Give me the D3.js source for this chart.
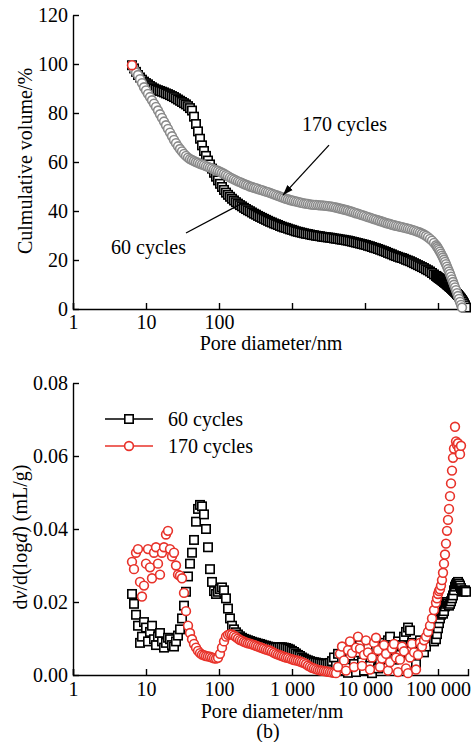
<!DOCTYPE html>
<html>
<head>
<meta charset="utf-8">
<script src="https://cdn.jsdelivr.net/npm/d3@7"></script>
<style>
body { margin: 0; background: #fff; }
svg text { font-family: "Liberation Serif", "Times New Roman", serif; font-size: 20px; fill: #000; }
</style>
</head>
<body>
<div id="chart"></div>
<script>
// pore diameters (nm), same pressure steps for both panels
const poreDiameter = [
  6.43, 6.85, 7.30, 7.77, 8.28, 8.81, 9.39, 10.0, 10.65, 11.34,
  12.08, 12.87, 13.71, 14.60, 15.55, 16.56, 17.64, 18.79, 20.01, 21.32,
  22.71, 24.19, 25.76, 27.44, 29.23, 31.13, 33.16, 35.32, 37.62, 40.07,
  42.68, 45.46, 48.42, 51.57, 54.93, 58.50, 62.31, 66.37, 70.69, 75.29,
  80.20, 85.42, 90.98, 96.9, 103.2, 109.9, 117.1, 124.7, 132.8, 141.5,
  150.7, 160.5, 171.0, 182.1, 194.0, 206.6, 220.1, 234.4, 249.7, 265.9,
  283.2, 301.7, 321.3, 342.3, 364.5, 388.3, 413.6, 440.5, 469.2, 499.7,
  532.2, 566.9, 603.8, 643.1, 685, 729.6, 777.1, 827.7, 881.6, 939,
  1000, 1065, 1134, 1208, 1287, 1371, 1460, 1555, 1656, 1764,
  1879, 2001, 2132, 2271, 2419, 2576, 2744, 2923, 3113, 3316,
  3532, 3762, 4007, 4268, 4546, 4842, 5157, 5493, 5850, 6231,
  6637, 7069, 7529, 8020, 8542, 9098, 9690, 10320, 10990, 11710,
  12470, 13280, 14150, 15070, 16050, 17100, 18210, 19400, 20660, 22010,
  23440, 24970, 26590, 28320, 30170, 32130, 34230, 36450, 38830, 41360,
  44050, 46920, 49970, 53220, 56690, 60380, 64310, 68500, 72960, 77710,
  82770, 88160, 93890,
  96900, 100000, 103200, 106500, 109900, 113400, 117100, 120800, 124700, 128700,
  132800, 137100, 141500, 146000, 150700, 155500, 160500, 165600, 171000, 176500,
  182100, 187900, 194000, 200200, 206600, 213200, 220100, 227100, 234400, 241900
];

// (a) cumulative volume, %
const cum60 = [
  99.5, 98.2, 96.8, 95.5, 94.5, 93.6, 92.8, 92.2, 91.7, 91,
  90.5, 90, 89.6, 89.3, 89, 88.7, 88.4, 88, 87.7, 87.3,
  86.9, 86.5, 86, 85.5, 85, 84.5, 84, 83.5, 82.8, 82,
  81, 78.5, 75.5, 72.5, 69.5, 66.8, 64.5, 62.5, 60.6, 59,
  57.3, 55.6, 54, 52.5, 51.1, 49.8, 48.6, 47.5, 46.6, 45.8,
  45, 44.3, 43.6, 43, 42.4, 41.9, 41.3, 40.8, 40.3, 39.9,
  39.4, 38.9, 38.5, 38, 37.6, 37.2, 36.8, 36.4, 36, 35.6,
  35.3, 34.9, 34.6, 34.3, 33.9, 33.6, 33.3, 33.1, 32.8, 32.5,
  32.3, 32, 31.7, 31.5, 31.3, 31.1, 30.9, 30.7, 30.6, 30.4,
  30.2, 30.1, 29.9, 29.8, 29.7, 29.5, 29.4, 29.3, 29.2, 29.1,
  29, 28.8, 28.7, 28.6, 28.4, 28.3, 28.2, 28, 27.9, 27.7,
  27.5, 27.3, 27.1, 26.9, 26.7, 26.5, 26.3, 26.1, 25.8, 25.6,
  25.3, 25, 24.8, 24.5, 24.2, 23.9, 23.6, 23.3, 22.9, 22.6,
  22.3, 21.9, 21.6, 21.3, 21, 20.8, 20.5, 20.1, 19.8, 19.5,
  19.1, 18.7, 18.3, 17.9, 17.5, 17.1, 16.7, 16.2, 15.8, 15.3,
  14.7, 14.1, 13.5,
  13.2, 12.9, 12.6, 12.3, 12.0, 11.7, 11.4, 11.0, 10.7, 10.4,
  10.0, 9.7, 9.3, 9.0, 8.6, 8.2, 7.8, 7.4, 7.0, 6.6,
  6.1, 5.7, 5.2, 4.7, 4.2, 3.6, 3.0, 2.3, 1.5, 0.6
];
const cum170 = [
  99.5, 97.8, 96.5, 95.5, 93.8, 92.2, 90.5, 89.2, 87.8, 86.5,
  85.2, 83.8, 82.5, 81, 79.5, 78, 76.5, 75, 73.5, 72,
  70.5, 69, 67.7, 66.4, 65.3, 64.3, 63.3, 62.5, 61.8, 61.2,
  60.8, 60.4, 60, 59.7, 59.3, 59, 58.7, 58.3, 58, 57.7,
  57.4, 57, 56.7, 56.4, 56, 55.6, 55.2, 54.7, 54.2, 53.7,
  53.3, 52.9, 52.5, 52.1, 51.8, 51.4, 51, 50.7, 50.4, 50,
  49.8, 49.5, 49.3, 49, 48.7, 48.5, 48.2, 47.9, 47.7, 47.4,
  47.1, 46.8, 46.5, 46.2, 45.9, 45.6, 45.3, 45, 44.8, 44.5,
  44.3, 44.1, 43.9, 43.7, 43.5, 43.3, 43.1, 43, 42.9, 42.7,
  42.6, 42.5, 42.5, 42.4, 42.3, 42.3, 42.2, 42.1, 42, 41.9,
  41.8, 41.6, 41.4, 41.2, 41, 40.8, 40.6, 40.4, 40.2, 39.9,
  39.7, 39.4, 39.1, 38.9, 38.6, 38.3, 38.1, 37.8, 37.5, 37.3,
  37, 36.7, 36.5, 36.2, 35.9, 35.7, 35.4, 35.1, 34.9, 34.7,
  34.4, 34.2, 34, 33.8, 33.6, 33.4, 33.2, 33, 32.8, 32.6,
  32.3, 32.1, 31.8, 31.5, 31.2, 30.8, 30.4, 29.9, 29.3, 28.6,
  27.9, 27, 26,
  25.4, 24.8, 24.1, 23.4, 22.6, 21.8, 21, 20.1, 19.2, 18.3,
  17.3, 16.3, 15.3, 14.3, 13.2, 12.1, 11, 9.9, 8.8, 7.7,
  6.5, 5.3, 4.1, 2.9, 1.7, 0.6, null, null, null, null
];

// (b) dv/d(log d), mL/g
const dv60 = [
  0.0222, 0.0195, 0.0165, 0.0135, 0.0088, 0.0105, 0.0145, 0.013, 0.0092, 0.0118,
  0.0135, 0.0098, 0.0082, 0.0105, 0.0115, 0.0092, 0.0075, 0.0088, 0.0102, 0.0098,
  0.0082, 0.0078, 0.0092, 0.0108, 0.0125, 0.0155, 0.019, 0.0228, 0.027, 0.0305,
  0.0335, 0.037, 0.042, 0.0455, 0.0466, 0.0462, 0.044, 0.04, 0.035, 0.029,
  0.0255, 0.023, 0.0222, 0.0228, 0.0235, 0.024, 0.0232, 0.021, 0.0182, 0.0155,
  0.0135, 0.0125, 0.0117, 0.0111, 0.0106, 0.0102, 0.0099, 0.0097, 0.0095, 0.0093,
  0.0091, 0.0089, 0.0088, 0.0086, 0.0085, 0.0083, 0.0081, 0.008, 0.0078, 0.0077,
  0.0076, 0.0075, 0.0075, 0.0075, 0.0076, 0.0076, 0.0075, 0.0074, 0.0072, 0.007,
  0.0066, 0.0063, 0.0059, 0.0055, 0.0052, 0.0048, 0.0045, 0.0042, 0.004, 0.0038,
  0.0036, 0.0035, 0.0034, 0.0033, 0.0032, 0.0031, 0.0031, 0.003, 0.0031, 0.0033,
  0.0038, 0.0048, 0.0025, 0.0058, 0.0012, 0.0045, 0.0065, 0.002, 0.0006, 0.0052,
  0.0072, 0.003, 0.0008, 0.0062, 0.0082, 0.0035, 0.0012, 0.0058, 0.0078, 0.0025,
  0.0005, 0.0048, 0.0068, 0.0018, 0.0042, 0.0075, 0.0088, 0.0062, 0.0095, 0.0105,
  0.0078, 0.0042, 0.0068, 0.0092, 0.0055, 0.0082, 0.0105, 0.0118, 0.013, 0.0122,
  0.0088, 0.005, 0.003, 0.0065, 0.0095, 0.0082, 0.0062, 0.0078, 0.0105, 0.012,
  0.0108, 0.0092, 0.0098,
  0.0112, 0.0128, 0.0142, 0.0155, 0.0165, 0.017, 0.0168, 0.0175, 0.0188, 0.0195,
  0.02, 0.0196, 0.019, 0.0195, 0.0202, 0.021, 0.0218, 0.0232, 0.0242, 0.0248,
  0.0252, 0.0255, 0.025, 0.0245, 0.0238, 0.0232, 0.0228, 0.023, 0.0232, 0.0228
];
const dv170 = [
  0.031, 0.029, 0.0335, 0.0345, 0.0255, 0.0215, 0.0245, 0.0305, 0.0345, 0.0295,
  0.0265, 0.0335, 0.035, 0.0305, 0.0275, 0.0335, 0.035, 0.0385, 0.0395, 0.0345,
  0.0325, 0.0335, 0.03, 0.0275, 0.0272, 0.0265, 0.0225, 0.0175, 0.0135, 0.0115,
  0.0098, 0.0085, 0.0075, 0.0066, 0.006, 0.0056, 0.0054, 0.0052, 0.0051, 0.005,
  0.0048, 0.0046, 0.0045, 0.0047, 0.0058, 0.0075, 0.0092, 0.0105, 0.011, 0.0112,
  0.0111, 0.0108, 0.0104, 0.01, 0.0096, 0.0094, 0.0091, 0.0089, 0.0087, 0.0086,
  0.0084, 0.0082, 0.008, 0.0078, 0.0076, 0.0074, 0.0072, 0.007, 0.0068, 0.0067,
  0.0064, 0.0061, 0.0058, 0.0056, 0.0054, 0.0052, 0.005, 0.0048, 0.0047, 0.0045,
  0.0043, 0.0041, 0.004, 0.0039, 0.0037, 0.0035, 0.0033, 0.003, 0.0026, 0.0023,
  0.002, 0.0018, 0.0016, 0.0014, 0.0013, 0.0012, 0.0011, 0.001, 0.0009, 0.0008,
  0.0007, 0.0006, 0.0005, 0.0022, 0.0058, 0.0078, 0.004, 0.0012, 0.0068, 0.0092,
  0.006, 0.0022, 0.0075, 0.0105, 0.0072, 0.0025, 0.0055, 0.0095, 0.0062, 0.0015,
  0.0048, 0.0088, 0.0102, 0.0068, 0.0022, 0.0045, 0.0082, 0.0058, 0.0012, 0.0035,
  0.0072, 0.0085, 0.0048, 0.0008, 0.0042, 0.0078, 0.0065, 0.0018, 0.0005, 0.0048,
  0.0085, 0.0062, 0.0015, 0.0055, 0.0088, 0.0078, 0.0095, 0.0105, 0.0118, 0.0135,
  0.0155, 0.0178, 0.0198,
  0.021, 0.0222, 0.023, 0.0235, 0.0245, 0.026, 0.028, 0.0305, 0.033, 0.036,
  0.0395, 0.0425, 0.0455, 0.049, 0.0525, 0.056, 0.0595, 0.062, 0.068, 0.064,
  0.063, 0.0635, 0.062, 0.0605, 0.0628, null, null, null, null, null
];

const diamTicks = [1, 10, 100, 1000, 10000, 100000];
const diamLabelsA = ["1", "10", "100", "", "", ""];
const diamLabelsB = ["1", "10", "100", "1 000", "10 000", "100 000"];
const cumTicks = [0, 20, 40, 60, 80, 100, 120];
const dvTicks = [0, 0.02, 0.04, 0.06, 0.08];
const seriesNames = ["60 cycles", "170 cycles"];

const width = 473, height = 742;
const svg = d3.select("#chart").append("svg")
    .attr("width", width)
    .attr("height", height);

const x = d3.scaleLog().domain([1, 257600]).range([73, 468]);
const yA = d3.scaleLinear().domain([0, 120]).range([309, 15]);
const yB = d3.scaleLinear().domain([0, 0.08]).range([675, 383]);

const pts = arr => poreDiameter.map((d, i) => ({d: d, v: arr[i]})).filter(p => p.v != null);

function drawAxes(y, yTicks, yFmt, xLabels, padX) {
    const base = y.range()[0];
    const gx = svg.append("g")
        .attr("transform", `translate(0,${base})`)
        .call(d3.axisBottom(x).tickValues(diamTicks).tickFormat((d, i) => xLabels[i])
            .tickSizeInner(-6).tickSizeOuter(-6).tickPadding(padX));
    const gy = svg.append("g")
        .attr("transform", `translate(${x.range()[0]},0)`)
        .call(d3.axisLeft(y).tickValues(yTicks).tickFormat(yFmt)
            .tickSizeInner(-6).tickSizeOuter(0).tickPadding(5));
    [gx, gy].forEach(g => {
        g.selectAll("path,line").attr("stroke", "#000").attr("stroke-width", 1.4);
        g.selectAll("text").attr("font-size", 20).attr("font-family", "Liberation Serif, serif").attr("fill", "#000");
    });
}

function squares(data, y, color) {
    svg.append("g").selectAll("rect")
        .data(data)
        .join("rect")
        .attr("x", p => x(p.d) - 4.2)
        .attr("y", p => y(p.v) - 4.2)
        .attr("width", 8.4)
        .attr("height", 8.4)
        .attr("fill", "#fff")
        .attr("stroke", color)
        .attr("stroke-width", 1.6);
}

function circles(data, y, color) {
    svg.append("g").selectAll("circle")
        .data(data)
        .join("circle")
        .attr("cx", p => x(p.d))
        .attr("cy", p => y(p.v))
        .attr("r", 4.4)
        .attr("fill", "#fff")
        .attr("stroke", color)
        .attr("stroke-width", 1.6);
}

// ---- panel (a)
drawAxes(yA, cumTicks, d3.format("d"), diamLabelsA, 6);
squares(pts(cum60), yA, "#000");
circles(pts(cum170), yA, "#8a8a8a");
// the first 170-cycle point shows red in the original
circles(pts(cum170).slice(0, 1), yA, "#e8322a");

svg.append("text")
    .attr("transform", "translate(32,161) rotate(-90)")
    .attr("text-anchor", "middle")
    .text("Culmulative volume/%");
svg.append("text")
    .attr("x", 271).attr("y", 350)
    .attr("text-anchor", "middle")
    .text("Pore diameter/nm");

// callouts (data coordinates)
svg.append("defs").append("marker")
    .attr("id", "arrow")
    .attr("viewBox", "0 0 10 10")
    .attr("refX", 10).attr("refY", 5)
    .attr("markerWidth", 8).attr("markerHeight", 8)
    .attr("orient", "auto")
    .append("path")
    .attr("d", "M0,1.5L10,5L0,8.5z")
    .attr("fill", "#000");

svg.append("line")
    .attr("x1", x(3213)).attr("y1", yA(66.9))
    .attr("x2", x(753)).attr("y2", yA(46.5))
    .attr("stroke", "#000").attr("stroke-width", 1.3)
    .attr("marker-end", "url(#arrow)");
svg.append("text")
    .attr("x", x(1371)).attr("y", yA(72.7))
    .text(seriesNames[1]);

svg.append("line")
    .attr("x1", x(35.3)).attr("y1", yA(31))
    .attr("x2", x(200)).attr("y2", yA(42.9))
    .attr("stroke", "#000").attr("stroke-width", 1.3);
svg.append("text")
    .attr("x", x(3.32)).attr("y", yA(22.4))
    .text(seriesNames[0]);

// ---- panel (b)
drawAxes(yB, dvTicks, d3.format(".2f"), diamLabelsB, 7);
squares(pts(dv60), yB, "#000");
circles(pts(dv170), yB, "#e8322a");

const yLab = svg.append("text")
    .attr("transform", "translate(27,537) rotate(-90)")
    .attr("text-anchor", "middle");
yLab.append("tspan").text("d");
yLab.append("tspan").attr("font-style", "italic").text("v");
yLab.append("tspan").text("/d(log");
yLab.append("tspan").attr("font-style", "italic").text("d");
yLab.append("tspan").text(") (mL/g)");

svg.append("text")
    .attr("x", 272).attr("y", 718)
    .attr("text-anchor", "middle")
    .text("Pore diameter/nm");
svg.append("text")
    .attr("x", 268).attr("y", 738)
    .attr("text-anchor", "middle")
    .text("(b)");

// legend
const legend = svg.append("g");
seriesNames.forEach((name, i) => {
    const ly = 419 + i * 27;
    const col = i === 0 ? "#000" : "#e8322a";
    legend.append("line")
        .attr("x1", 105).attr("x2", 153).attr("y1", ly).attr("y2", ly)
        .attr("stroke", col).attr("stroke-width", 1.4);
    if (i === 0) {
        legend.append("rect")
            .attr("x", 129 - 4.2).attr("y", ly - 4.2).attr("width", 8.4).attr("height", 8.4)
            .attr("fill", "#fff").attr("stroke", col).attr("stroke-width", 1.6);
    } else {
        legend.append("circle")
            .attr("cx", 129).attr("cy", ly).attr("r", 4.4)
            .attr("fill", "#fff").attr("stroke", col).attr("stroke-width", 1.6);
    }
    legend.append("text")
        .attr("x", 168).attr("y", ly + 6.5)
        .text(name);
});
</script>
</body>
</html>
